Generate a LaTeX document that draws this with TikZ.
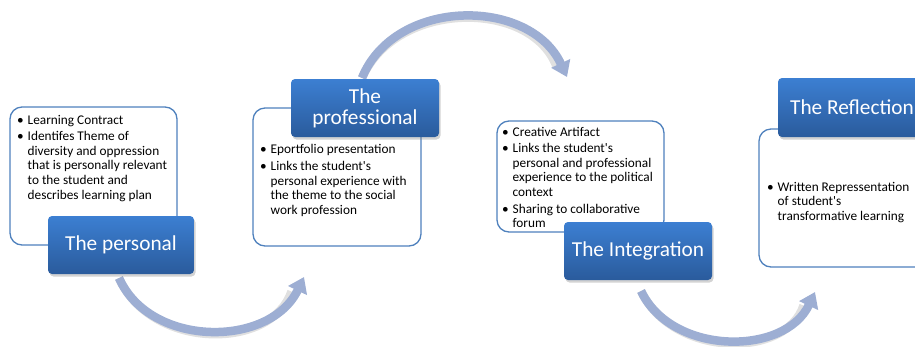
\documentclass[tikz,border=0pt]{standalone}
\usepackage{fontspec}
\setmainfont{Carlito}[Ligatures=TeXOff]
\usetikzlibrary{shadows,arrows.meta}
\definecolor{boxline}{HTML}{4F81BD}
\definecolor{bluetop}{HTML}{3C7FD2}
\definecolor{bluebot}{HTML}{2A5B9C}
\definecolor{arrowc}{HTML}{9DAED3}
\newcommand{\bul}[1]{\par\hangindent=10.5pt\hangafter=1\noindent\makebox[10.5pt][l]{\textbullet}#1}
\tikzset{
 infobox/.style={draw=boxline, line width=1.3pt, rounded corners=12pt, fill=white, inner sep=0},
 titlebox/.style={rounded corners=4pt, top color=bluetop, bottom color=bluebot, draw=none,
   drop shadow={opacity=0.35, shadow xshift=1.5pt, shadow yshift=-2.5pt},
   text=white, font=\fontsize{21.3}{22}\selectfont, align=center, inner sep=0},
 cyc/.style={line width=8.5pt, draw=arrowc, -{Triangle[width=20pt,length=15pt]}},
 cycshadow/.style={line width=8.5pt, draw=black!12},
 listtxt/.style={anchor=base west, inner sep=0},
}
\begin{document}
\begin{tikzpicture}[x=1pt,y=-1pt]
\useasboundingbox (0,0) rectangle (915,346);
\clip (0,0) rectangle (915,346);
% curved arrows
\coordinate (a1s) at (119,278);
\coordinate (a1e) at (304,277);
\coordinate (a2s) at (362,78);
\coordinate (a2e) at (567,77);
\coordinate (a3s) at (641,291);
\coordinate (a3e) at (815,292);
\begin{scope}[shift={(1.5,2.5)}]
\draw[cycshadow] (a1s) .. controls (150,348) and (270,348) .. (290,289);
\draw[cycshadow] (a2s) .. controls (395,-3) and (530,-3) .. (555,64);
\draw[cycshadow] (a3s) .. controls (672,356) and (785,356) .. (802,303);
\end{scope}
\draw[cyc] (a1s) .. controls (150,348) and (270,348) .. (a1e);
\draw[cyc] (a2s) .. controls (395,-3) and (530,-3) .. (a2e);
\draw[cyc] (a3s) .. controls (672,356) and (785,356) .. (a3e);
% white boxes
\node[infobox, minimum width=167pt, minimum height=138pt] (b1) at (93.5,176) {};
\node[infobox, minimum width=168pt, minimum height=138pt] (b2) at (337,177) {};
\node[infobox, minimum width=167pt, minimum height=111pt] (b3) at (580.5,176.5) {};
\node[infobox, minimum width=168pt, minimum height=138pt] (b4) at (843,198) {};
% texts
\node[listtxt] (t1) at (17,124.5) {\begin{minipage}[t]{160pt}\fontsize{13.3}{14.8}\selectfont
\bul{Learning Contract}\par\vspace{1pt}
\bul{Identifes Theme of\\ diversity and oppression\\ that is personally relevant\\ to the student and\\ describes learning plan}
\end{minipage}};
\node[listtxt] (t2) at (260,153.5) {\begin{minipage}[t]{160pt}\fontsize{13.3}{14.8}\selectfont
\bul{Eportfolio presentation}\par\vspace{2pt}
\bul{Links the student's\\ personal experience with\\ the theme to the social\\ work profession}
\end{minipage}};
\node[listtxt] (t3) at (502,136) {\begin{minipage}[t]{160pt}\fontsize{13.3}{14.6}\selectfont
\bul{Creative Artifact}\par\vspace{2pt}
\bul{Links the student's\\ personal and professional\\ experience to the political\\ context}\par\vspace{2pt}
\bul{Sharing to collaborative\\ forum}
\end{minipage}};
\node[listtxt] (t4) at (767,191.5) {\begin{minipage}[t]{160pt}\fontsize{13.3}{14.4}\selectfont
\bul{Written Repressentation\\ of student's\\ transformative learning}
\end{minipage}};
% title boxes
\node[titlebox, minimum width=146pt, minimum height=58pt] (p1) at (121,245) {The personal};
\node[titlebox, minimum width=148pt, minimum height=58pt] (p2) at (365,108) {The\\[-1pt] professional};
\node[titlebox, minimum width=148pt, minimum height=58pt] (p3) at (638,251) {The Integration};
\node[titlebox, minimum width=148pt, minimum height=59pt] (p4) at (852,107.5) {The Reflection};
\end{tikzpicture}
\end{document}
